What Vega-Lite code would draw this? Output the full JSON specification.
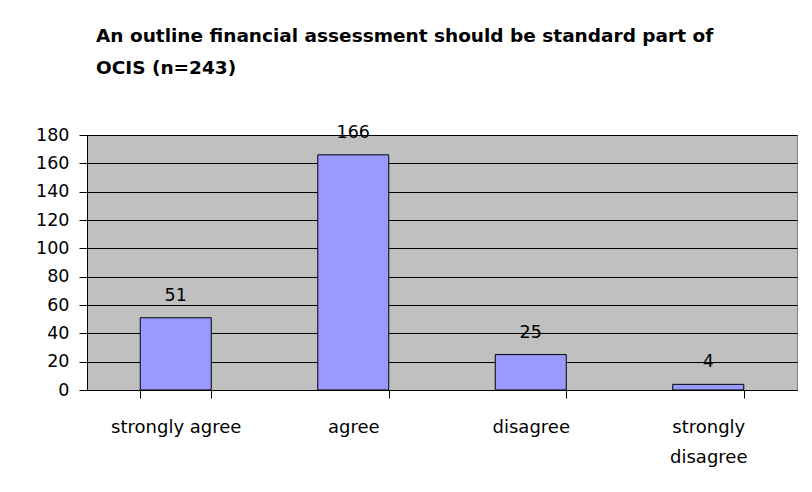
{
  "$schema": "https://vega.github.io/schema/vega-lite/v6.json",
  "autosize": {"type": "none"},
  "width": 710,
  "height": 255,
  "padding": {"left": 87, "top": 135, "right": 15, "bottom": 102},
  "background": "white",
  "title": {
    "text": ["An outline financial assessment should be standard part of", "OCIS (n=243)"],
    "anchor": "start",
    "frame": "group",
    "dx": 9,
    "offset": 46,
    "font": "DejaVu Sans",
    "fontSize": 18.5,
    "fontWeight": "bold",
    "lineHeight": 32,
    "color": "black"
  },
  "data": {
    "values": [
      {"response": "strongly agree", "count": 51},
      {"response": "agree", "count": 166},
      {"response": "disagree", "count": 25},
      {"response": "strongly disagree", "count": 4}
    ]
  },
  "encoding": {
    "x": {
      "field": "response",
      "type": "nominal",
      "sort": null,
      "scale": {"paddingInner": 0.6, "paddingOuter": 0.3},
      "axis": {
        "title": null,
        "labelAngle": 0,
        "tickBand": "extent",
        "tickSize": 8,
        "tickColor": "black",
        "domainColor": "black",
        "labelFont": "DejaVu Sans",
        "labelFontSize": 18,
        "labelColor": "black",
        "labelPadding": 20,
        "labelLineHeight": 30,
        "labelExpr": "datum.value == 'strongly disagree' ? ['strongly', 'disagree'] : datum.value",
        "grid": false
      }
    },
    "y": {
      "field": "count",
      "type": "quantitative",
      "scale": {"domain": [0, 180], "nice": false},
      "axis": {
        "title": null,
        "values": [0, 20, 40, 60, 80, 100, 120, 140, 160, 180],
        "tickSize": 8,
        "tickColor": "black",
        "domainColor": "black",
        "gridColor": "black",
        "gridOpacity": 1,
        "labelFont": "DejaVu Sans",
        "labelFontSize": 17.5,
        "labelColor": "black",
        "labelPadding": 10
      }
    }
  },
  "layer": [
    {
      "mark": {"type": "bar", "fill": "#9999FF", "stroke": "black", "strokeWidth": 1}
    },
    {
      "mark": {"type": "text", "baseline": "alphabetic", "dy": -17, "font": "DejaVu Sans", "fontSize": 17.5, "color": "black"},
      "encoding": {"text": {"field": "count", "type": "quantitative"}}
    }
  ],
  "config": {
    "view": {"fill": "#C0C0C0", "stroke": "#808080", "strokeWidth": 1},
    "axis": {"domainWidth": 1, "tickWidth": 1}
  }
}
